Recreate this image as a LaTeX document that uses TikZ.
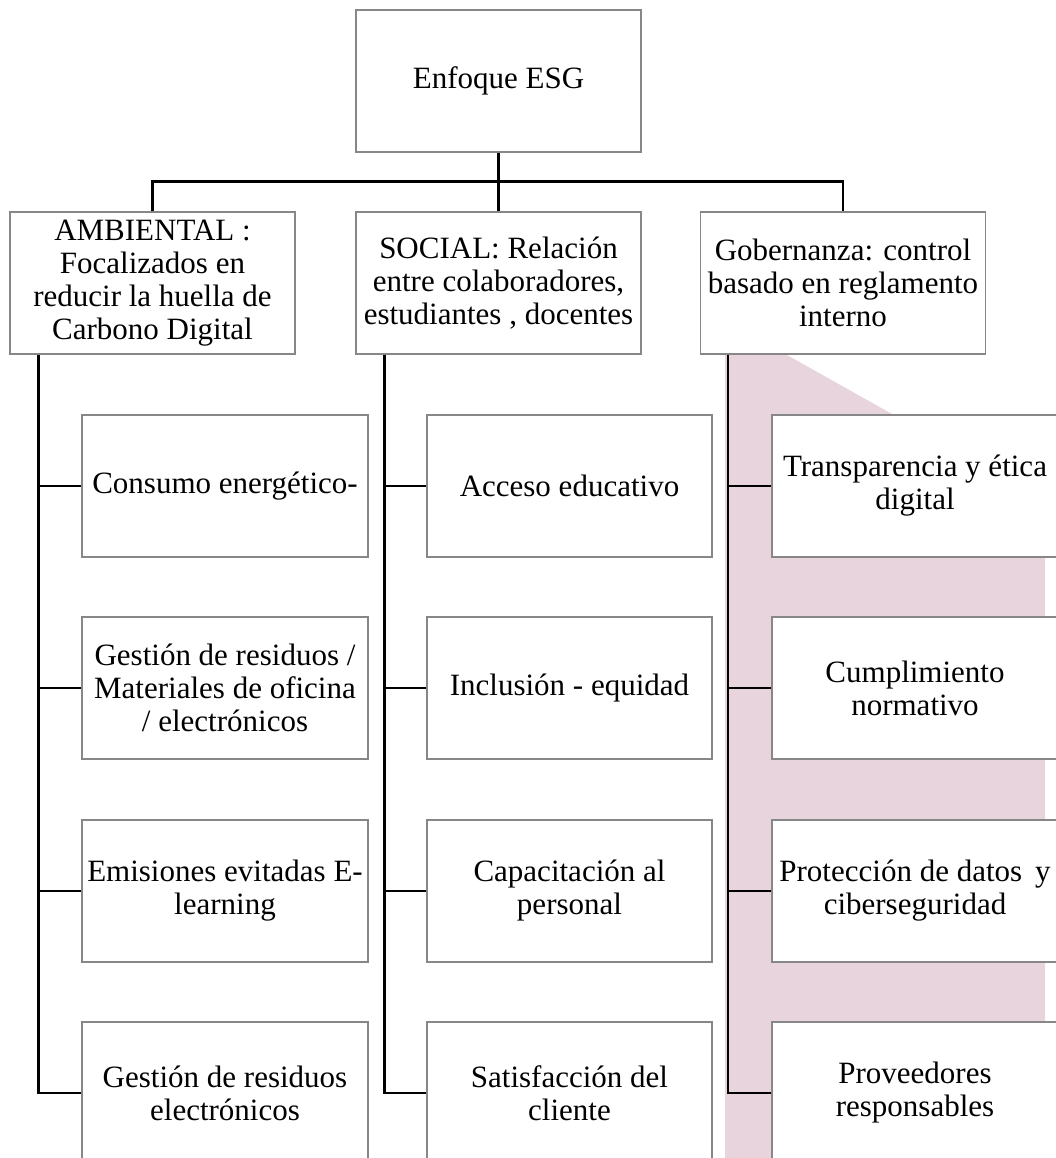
\documentclass[tikz,border=0pt]{standalone}
\usepackage{fontspec}
\setmainfont{Liberation Serif}
\definecolor{boxline}{RGB}{135,135,135}
\definecolor{pinkbg}{RGB}{232,212,220}
\begin{document}
\begin{tikzpicture}[x=1pt,y=-1pt,
  box/.style={draw=boxline, line width=1.1pt, fill=white, minimum width=285pt, minimum height=142pt,
    inner sep=0pt, align=center, font=\fontsize{31}{33}\selectfont},
  conn/.style={draw=black, line width=2.2pt}]
\useasboundingbox (0,0) rectangle (1056,1158);
\clip (0,0) rectangle (1056,1158);
% background shape
\fill[pinkbg] (725,355) -- (787,355) -- (1045,500) -- (1045,1158) -- (725,1158) -- cycle;

% level 1
\node[box] (top) at (498.5,81) {Enfoque ESG};
% level 2
\node[box] (amb) at (152.5,283) {AMBIENTAL :\\Focalizados en\\reducir la huella de\\Carbono Digital};
\node[box] (soc) at (498.5,283) {SOCIAL: Relación\\entre colaboradores,\\estudiantes , docentes};
\node[box] (gob) at (843,283) {Gobernanza: control\\basado en reglamento\\interno};

% level 3
\node[box, minimum width=286pt] (a1) at (225,486) {Consumo energético-};
\node[box, minimum width=286pt] (a2) at (225,688) {Gestión de residuos /\\Materiales de oficina\\/ electrónicos};
\node[box, minimum width=286pt] (a3) at (225,891) {Emisiones evitadas E-\\learning};
\node[box, minimum width=286pt] (a4) at (225,1093) {Gestión de residuos\\electrónicos};

\node[box] (s1) at (569.5,486) {Acceso educativo};
\node[box] (s2) at (569.5,688) {Inclusión - equidad};
\node[box] (s3) at (569.5,891) {Capacitación al\\personal};
\node[box] (s4) at (569.5,1093) {Satisfacción del\\cliente};

\node[box, minimum width=286pt] (g1) at (915,486) {Transparencia y ética\\digital};
\node[box, minimum width=286pt] (g2) at (915,688) {Cumplimiento\\normativo};
\node[box, minimum width=286pt] (g3) at (915,891) {Protección de datos\, y\\ciberseguridad};
\node[box, minimum width=286pt] (g4) at (915,1093) {Proveedores\\responsables};

% top connectors
\draw[conn] (top.south) -- (soc.north);
\draw[conn] (amb.north) -- ++(0,-30) -| (gob.north);

% trunks
\coordinate (ta) at ([xshift=29pt]amb.south west);
\coordinate (ts) at ([xshift=29pt]soc.south west);
\coordinate (tg) at ([xshift=28pt]gob.south west);
\draw[conn] (ta) |- (a4.west);
\draw[conn] (ts) |- (s4.west);
\draw[conn] (tg) |- (g4.west);
\foreach \i in {1,2,3}{
  \draw[conn] (a\i.west -| ta) -- (a\i.west);
  \draw[conn] (s\i.west -| ts) -- (s\i.west);
  \draw[conn] (g\i.west -| tg) -- (g\i.west);
}
\end{tikzpicture}
\end{document}
